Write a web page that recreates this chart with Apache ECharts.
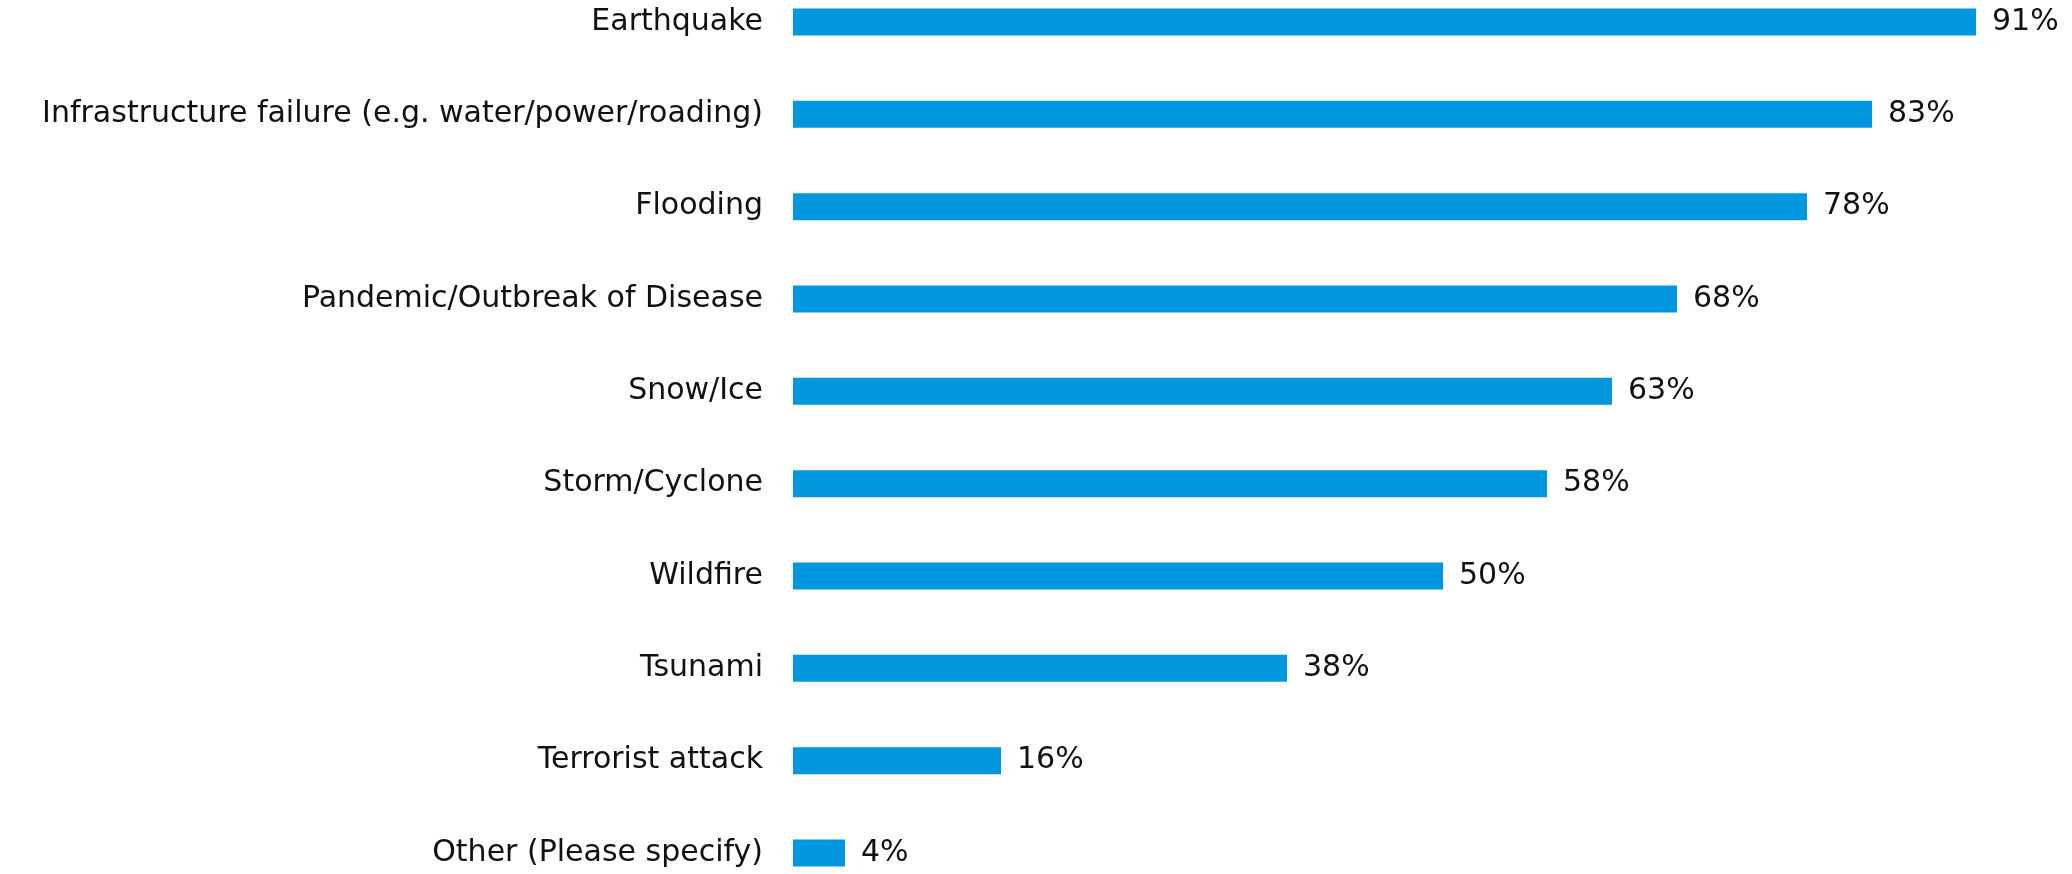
<!DOCTYPE html>
<html><head><meta charset="utf-8">
<script src="https://cdn.jsdelivr.net/npm/echarts@6/dist/echarts.min.js"></script>
<style>html,body{margin:0;padding:0;background:#fff}#c{width:2072px;height:874px}</style>
</head><body><div id="c"></div>
<script>
const categories = ["Earthquake","Infrastructure failure (e.g. water/power/roading)","Flooding","Pandemic/Outbreak of Disease","Snow/Ice","Storm/Cyclone","Wildfire","Tsunami","Terrorist attack","Other (Please specify)"];
const values = [91,83,78,68,63,58,50,38,16,4];
const chart = echarts.init(document.getElementById('c'));
chart.setOption({
  animation:false,
  grid:{left:793,width:1209,top:22,height:831,containLabel:false},
  xAxis:{type:'value',min:0,max:93,show:false},
  yAxis:{type:'category',data:categories,inverse:true,boundaryGap:false,
    axisLine:{show:false},axisTick:{show:false},splitLine:{show:false},
    axisLabel:{margin:30,fontSize:30,color:'#111',fontFamily:'DejaVu Sans'}},
  series:[{type:'bar',data:values,barWidth:27,
    itemStyle:{color:'#0097DE'},
    label:{show:true,position:'right',distance:16,formatter:'{c}%',fontSize:30,color:'#111',fontFamily:'DejaVu Sans'}}]
});
</script></body></html>
